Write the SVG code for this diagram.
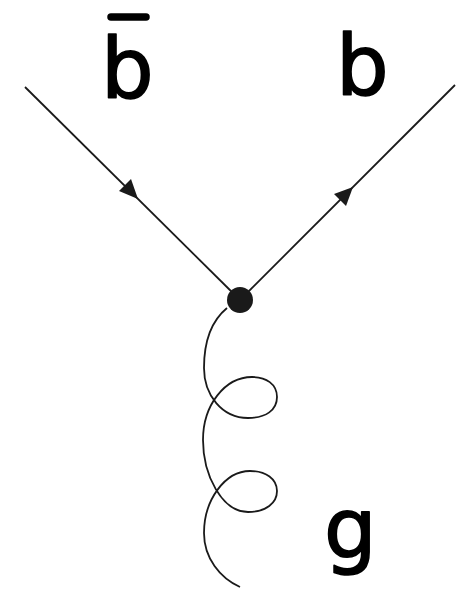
<svg xmlns="http://www.w3.org/2000/svg" width="470" height="589" viewBox="0 0 470 589">
<style>
.line{stroke:#1a1a1a;stroke-width:1.8;fill:none}
.arrow{fill:#1a1a1a}
.lbl{font-family:"DejaVu Sans",sans-serif;font-size:83px;fill:#000;stroke:#000;stroke-width:1.6;stroke-linejoin:round}
</style>
<rect width="470" height="589" fill="#fff"/>
<g id="connectors">
<line class="line" x1="25" y1="87" x2="240" y2="300"/>
<line class="line" x1="240" y1="300" x2="455" y2="85"/>
<path class="line" d="M227,308 C210,322 204,345 204,368 C204,395 222,418 248,418 C266,418 277,410 277,397 C277,384 266,377 252,377 C225,377 203,405 203,440 C203,475 222,512 248,512 C266,512 277,503 277,491 C277,479 266,471 250,471 C225,471 204,500 204,533 C204,558 220,578 240,587"/>
<polygon class="arrow" points="138,199 119,191 131,179"/>
<polygon class="arrow" points="353,187 346,206 334,194"/>
</g>
<g id="vertex"><circle cx="240" cy="300" r="13" fill="#1a1a1a"/></g>
<g id="bbar">
<line x1="111" y1="17" x2="146" y2="17" stroke="#000" stroke-width="7.5" stroke-linecap="round"/>
<text class="lbl" x="101" y="98">b</text>
</g>
<g id="b"><text class="lbl" x="336" y="95">b</text></g>
<g id="g"><text class="lbl" x="324" y="558">g</text></g>
</svg>
